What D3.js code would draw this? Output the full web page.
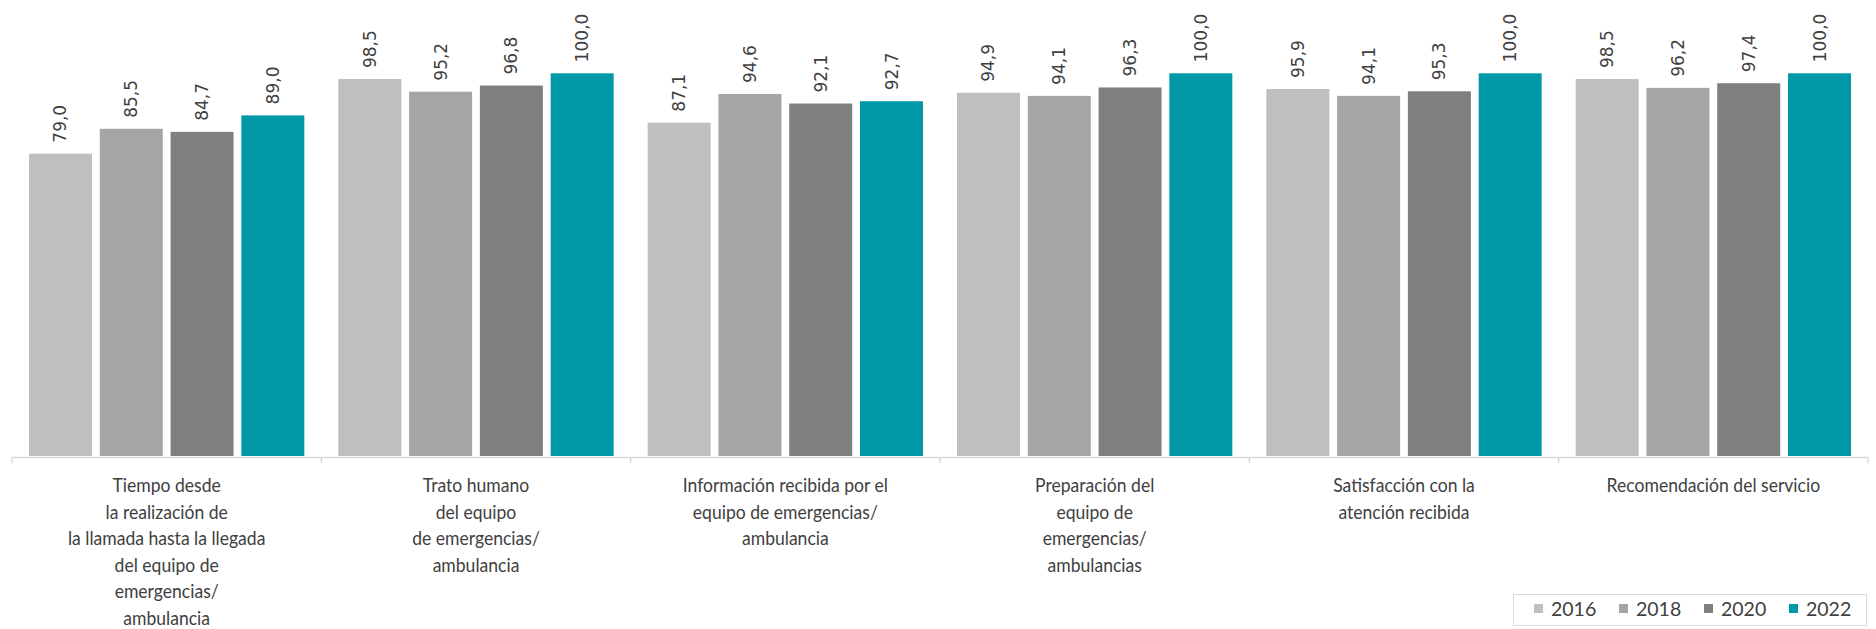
<!DOCTYPE html>
<html>
<head>
<meta charset="utf-8">
<script src="https://cdn.jsdelivr.net/npm/d3@7"></script>
<style>
  body { margin: 0; background: #fff; }
  svg { display: block; }
</style>
</head>
<body>
<div id="chart"></div>
<script>
const categories = [
  ["Tiempo desde", "la realización de", "la llamada hasta la llegada", "del equipo de", "emergencias/", "ambulancia"],
  ["Trato humano", "del equipo", "de emergencias/", "ambulancia"],
  ["Información recibida por el", "equipo de emergencias/", "ambulancia"],
  ["Preparación del", "equipo de", "emergencias/", "ambulancias"],
  ["Satisfacción con la", "atención recibida"],
  ["Recomendación del servicio"]
]
const years = ["2016", "2018", "2020", "2022"]
const values2016 = [79.0, 98.5, 87.1, 94.9, 95.9, 98.5]
const values2018 = [85.5, 95.2, 94.6, 94.1, 94.1, 96.2]
const values2020 = [84.7, 96.8, 92.1, 96.3, 95.3, 97.4]
const values2022 = [89.0, 100.0, 92.7, 100.0, 100.0, 100.0]
const colors = ["#bfbfbf", "#a5a5a5", "#7f7f7f", "#0097a7"]

const series = [values2016, values2018, values2020, values2022]
const groups = categories.map((c, i) => ({
  key: "c" + i,
  lines: c,
  bars: years.map((y, j) => ({ year: y, value: series[j][i] }))
}))

const width = 1876
const height = 629
const baseY = 456

const svg = d3.select("#chart").append("svg")
  .attr("width", width)
  .attr("height", height)

const x0 = d3.scaleBand()
  .domain(groups.map(d => d.key))
  .range([12, 1868])

const x1 = d3.scaleBand()
  .domain(years)
  .range([17, x0.bandwidth() - 17])
  .paddingInner(0.11)

const y = d3.scaleLinear()
  .domain([0, 100])
  .range([baseY, 73.3])

const color = d3.scaleOrdinal().domain(years).range(colors)
const fmt = d3.formatLocale({ decimal: ",", thousands: ".", grouping: [3], currency: ["", "€"] }).format(".1f")

const g = svg.selectAll("g.grp")
  .data(groups)
  .join("g")
  .attr("class", "grp")
  .attr("transform", d => `translate(${x0(d.key)},0)`)

g.selectAll("rect")
  .data(d => d.bars)
  .join("rect")
  .attr("x", d => x1(d.year))
  .attr("y", d => y(d.value))
  .attr("width", x1.bandwidth())
  .attr("height", d => baseY - y(d.value))
  .attr("fill", d => color(d.year))

g.selectAll("text.val")
  .data(d => d.bars)
  .join("text")
  .attr("class", "val")
  .attr("transform", d => `translate(${x1(d.year) + x1.bandwidth() / 2},${y(d.value) - 11}) rotate(-90)`)
  .attr("dominant-baseline", "central")
  .attr("font-family", "DejaVu Sans")
  .attr("font-size", 17)
  .attr("fill", "#404040")
  .text(d => fmt(d.value))

// axis line and separators between categories
svg.append("line")
  .attr("x1", x0.range()[0]).attr("x2", x0.range()[1])
  .attr("y1", baseY + 1.5).attr("y2", baseY + 1.5)
  .attr("stroke", "#d9d9d9")
  .attr("stroke-width", 1.5)

const seps = x0.domain().map(k => x0(k)).concat([x0.range()[1]])
svg.selectAll("line.sep")
  .data(seps)
  .join("line")
  .attr("class", "sep")
  .attr("x1", d => d).attr("x2", d => d)
  .attr("y1", baseY + 1.5).attr("y2", baseY + 7)
  .attr("stroke", "#d9d9d9")
  .attr("stroke-width", 1.5)

// category labels (narrowed a bit to mimic Calibri)
g.append("g")
  .attr("transform", `translate(${x0.bandwidth() / 2},0) scale(0.9,1)`)
  .append("text")
  .attr("class", "cat")
  .attr("text-anchor", "middle")
  .attr("font-family", "Lato")
  .attr("font-size", 19.5)
  .attr("fill", "#404040")
  .selectAll("tspan")
  .data(d => d.lines)
  .join("tspan")
  .attr("x", 0)
  .attr("y", (d, i) => 492.5 + i * 26.5)
  .text(d => d)

// legend
const legend = svg.append("g")
svg.insert("rect", ":first-child")
  .attr("x", 1513.5).attr("y", 594.5)
  .attr("width", 353).attr("height", 31)
  .attr("fill", "#fff")
  .attr("stroke", "#d9d9d9")

const lx = d3.scaleBand().domain(years).range([1530, 1870])

const item = legend.selectAll("g")
  .data(years)
  .join("g")
  .attr("transform", d => `translate(${lx(d)},0)`)

item.append("rect")
  .attr("x", 4).attr("y", 604)
  .attr("width", 9).attr("height", 9)
  .attr("fill", d => color(d))

item.append("text")
  .attr("x", 21).attr("y", 615.5)
  .attr("font-family", "Lato")
  .attr("font-size", 19.5)
  .attr("fill", "#404040")
  .text(d => d)
</script>
</body>
</html>
